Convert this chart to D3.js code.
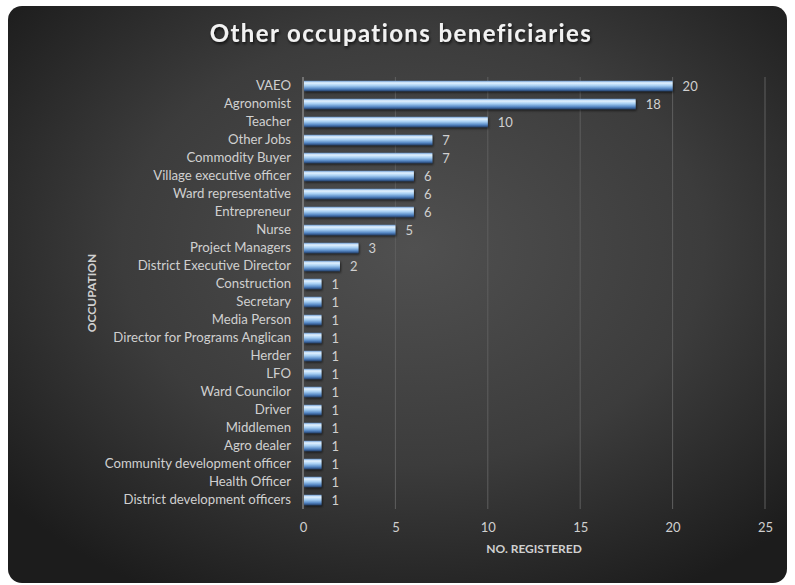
<!DOCTYPE html>
<html>
<head>
<meta charset="utf-8">
<script src="https://cdn.jsdelivr.net/npm/d3@7"></script>
<style>
  html, body { margin: 0; padding: 0; background: #ffffff; }
  svg { display: block; }
</style>
</head>
<body>
<div id="chart"></div>
<script>
// Occupation categories, top to bottom
const categories = [
  "VAEO", "Agronomist", "Teacher", "Other Jobs", "Commodity Buyer",
  "Village executive officer", "Ward representative", "Entrepreneur", "Nurse",
  "Project Managers", "District Executive Director", "Construction", "Secretary",
  "Media Person", "Director for Programs Anglican", "Herder", "LFO",
  "Ward Councilor", "Driver", "Middlemen", "Agro dealer",
  "Community development officer", "Health Officer", "District development officers"
];
// Number registered per occupation
const registered = [20, 18, 10, 7, 7, 6, 6, 6, 5, 3, 2, 1, 1, 1, 1, 1, 1, 1, 1, 1, 1, 1, 1, 1];
// X axis ticks
const xTicks = [0, 5, 10, 15, 20, 25];

const W = 795, H = 585;
const margin = { left: 303, right: 30, top: 77, bottom: 76 };
const font = "Lato, 'Open Sans', sans-serif";

const svg = d3.select("#chart").append("svg")
  .attr("width", W).attr("height", H);

const defs = svg.append("defs");
const bg = defs.append("radialGradient").attr("id", "bgGrad")
  .attr("cx", "52%").attr("cy", "42%").attr("r", "68%");
bg.append("stop").attr("offset", "0%").attr("stop-color", "#505050");
bg.append("stop").attr("offset", "55%").attr("stop-color", "#3c3c3c");
bg.append("stop").attr("offset", "100%").attr("stop-color", "#1c1c1c");

const barGrad = defs.append("linearGradient").attr("id", "barGrad")
  .attr("x1", 0).attr("y1", 0).attr("x2", 0).attr("y2", 1);
barGrad.append("stop").attr("offset", "0%").attr("stop-color", "#6a9ad2");
barGrad.append("stop").attr("offset", "20%").attr("stop-color", "#e4f3ff");
barGrad.append("stop").attr("offset", "48%").attr("stop-color", "#a4cdf2");
barGrad.append("stop").attr("offset", "78%").attr("stop-color", "#5284c2");
barGrad.append("stop").attr("offset", "100%").attr("stop-color", "#213f6a");

const shadow = defs.append("filter").attr("id", "txtShadow")
  .attr("x", "-10%").attr("y", "-30%").attr("width", "120%").attr("height", "160%");
shadow.append("feDropShadow").attr("dx", 1).attr("dy", 2).attr("stdDeviation", 1.5)
  .attr("flood-color", "#000").attr("flood-opacity", 0.7);

const barShadow = defs.append("filter").attr("id", "barShadow")
  .attr("x", "-10%").attr("y", "-40%").attr("width", "120%").attr("height", "200%");
barShadow.append("feDropShadow").attr("dx", 1).attr("dy", 1.5).attr("stdDeviation", 1)
  .attr("flood-color", "#000").attr("flood-opacity", 0.6);

// Chart panel
svg.append("rect")
  .attr("x", 8).attr("y", 6).attr("width", 779).attr("height", 577)
  .attr("rx", 14).attr("ry", 14)
  .attr("fill", "url(#bgGrad)");

const x = d3.scaleLinear().domain([0, 25])
  .range([margin.left, W - margin.right]);
const y = d3.scaleBand().domain(categories)
  .range([margin.top, H - margin.bottom])
  .paddingInner(0.42).paddingOuter(0.21);

// Vertical gridlines
svg.append("g").selectAll("line")
  .data(xTicks.filter(d => d > 0))
  .join("line")
  .attr("x1", d => x(d)).attr("x2", d => x(d))
  .attr("y1", margin.top).attr("y2", H - margin.bottom)
  .attr("stroke", "#5e5e5e").attr("stroke-width", 1);

// Bars
svg.append("g").selectAll("rect")
  .data(categories)
  .join("rect")
  .attr("x", x(0) + 1)
  .attr("y", d => y(d))
  .attr("width", (d, i) => x(registered[i]) - x(0) - 1)
  .attr("height", y.bandwidth())
  .attr("fill", "url(#barGrad)")
  .attr("filter", "url(#barShadow)");

// Value labels
svg.append("g").selectAll("text")
  .data(categories)
  .join("text")
  .attr("x", (d, i) => x(registered[i]) + 10)
  .attr("y", d => y(d) + y.bandwidth() / 2)
  .attr("dy", "0.35em")
  .attr("font-family", font).attr("font-size", 13)
  .attr("fill", "#d0d0d0")
  .text((d, i) => registered[i]);

// Y axis
const yAxis = svg.append("g")
  .attr("transform", `translate(${x(0)},0)`)
  .call(d3.axisLeft(y).tickSize(0).tickPadding(12));
yAxis.select(".domain").remove();
yAxis.append("line")
  .attr("x1", 0).attr("x2", 0)
  .attr("y1", margin.top).attr("y2", H - margin.bottom)
  .attr("stroke", "#a6a6a6").attr("stroke-width", 1);
yAxis.selectAll("text")
  .attr("font-family", font).attr("font-size", 13.2)
  .attr("fill", "#d0d0d0");

// X axis
const xAxis = svg.append("g")
  .attr("transform", `translate(0,${H - margin.bottom})`)
  .call(d3.axisBottom(x).tickValues(xTicks).tickSize(0).tickPadding(14));
xAxis.select(".domain").remove();
xAxis.selectAll("text")
  .attr("font-family", font).attr("font-size", 13)
  .attr("fill", "#d0d0d0");

// Axis titles
svg.append("text")
  .attr("x", (x(0) + x(25)) / 2).attr("y", 553)
  .attr("text-anchor", "middle")
  .attr("font-family", font).attr("font-size", 12).attr("font-weight", "bold")
  .attr("fill", "#d0d0d0")
  .text("NO. REGISTERED");

svg.append("text")
  .attr("transform", `translate(96,${(margin.top + H - margin.bottom) / 2}) rotate(-90)`)
  .attr("text-anchor", "middle")
  .attr("font-family", font).attr("font-size", 12).attr("font-weight", "bold")
  .attr("fill", "#d0d0d0")
  .text("OCCUPATION");

// Title
svg.append("text")
  .attr("x", 401).attr("y", 42)
  .attr("text-anchor", "middle")
  .attr("font-family", font).attr("font-size", 24).attr("font-weight", "bold")
  .attr("letter-spacing", 1.4)
  .attr("fill", "#f2f2f2")
  .attr("filter", "url(#txtShadow)")
  .text("Other occupations beneficiaries");
</script>
</body>
</html>
